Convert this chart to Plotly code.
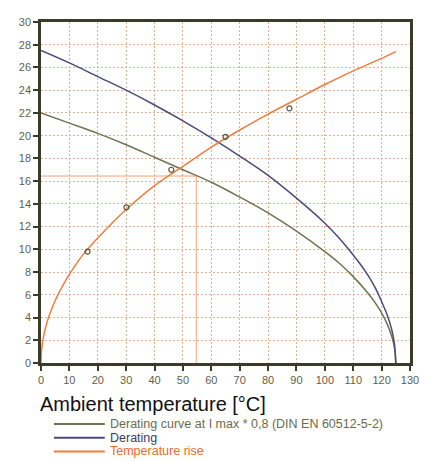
import plotly.graph_objects as go

# values
ambient = [0, 10, 20, 30, 40, 50, 60, 70, 80, 90, 100, 105, 110, 115, 118, 120, 122, 123.5, 124.5, 125]
derating_08 = [22.0, 21.1, 20.2, 19.2, 18.1, 17.0, 15.9, 14.6, 13.2, 11.6, 9.8, 8.8, 7.6, 6.2, 5.2, 4.4, 3.4, 2.4, 1.4, 0]
derating = [27.5, 26.4, 25.2, 24.0, 22.7, 21.3, 19.8, 18.2, 16.5, 14.5, 12.3, 11.0, 9.5, 7.8, 6.5, 5.4, 4.2, 3.0, 1.7, 0]

rise_x = [0, 0.3, 1, 2, 3, 5, 7, 10, 15, 20, 25, 30, 40, 50, 60, 70, 80, 90, 100, 110, 120, 125]
rise_y = [0, 1.4, 2.45, 3.5, 4.25, 5.5, 6.5, 7.8, 9.6, 11.0, 12.3, 13.5, 15.6, 17.3, 19.0, 20.5, 21.9, 23.2, 24.5, 25.7, 26.8, 27.4]

meas_x = [16.4, 30.1, 45.9, 65.0, 87.5]
meas_y = [9.8, 13.7, 17.0, 19.9, 22.4]

# operating point marked with guide lines
op_x = 54.7
op_y = 16.45

x_ticks = list(range(0, 131, 10))
y_ticks = list(range(0, 31, 2))

names = ["Derating curve at I max * 0,8 (DIN EN 60512-5-2)", "Derating", "Temperature rise"]
colors = ["#6f7352", "#4b4a78", "#f27c3e"]
text_colors = ["#6b6b4c", "#3d3c66", "#f0682a"]

axis_col = "#3b3b2a"
grid_col = "#e0b090"

fig = go.Figure()

fig.add_trace(go.Scatter(x=[0, op_x, op_x], y=[op_y, op_y, 0], mode="lines",
                         line=dict(color="#f6a172", width=1), showlegend=False, hoverinfo="skip"))
fig.add_trace(go.Scatter(x=ambient, y=derating_08, mode="lines", name=names[0],
                         line=dict(color=colors[0], width=1.5, shape="spline")))
fig.add_trace(go.Scatter(x=ambient, y=derating, mode="lines", name=names[1],
                         line=dict(color=colors[1], width=1.5, shape="spline")))
fig.add_trace(go.Scatter(x=rise_x, y=rise_y, mode="lines", name=names[2],
                         line=dict(color=colors[2], width=1.5, shape="spline")))
fig.add_trace(go.Scatter(x=meas_x, y=meas_y, mode="markers", showlegend=False,
                         marker=dict(symbol="circle-open", size=5, color="#55553c", line=dict(width=1.2))))

# the page body has an 8px margin, so the figure is a bit smaller than the window
W, H = 419, 453
pw = W - 33 - 16
ph = H - 8 - 98


def py(px_from_top):
    # window pixel row -> paper y
    return (363 - px_from_top) / ph


def px(px_from_left):
    return (px_from_left - 41) / pw


# hand-drawn legend below the axis title
leg_rows = [425, 439, 453]
for name, col, tcol, row in zip(names, colors, text_colors, leg_rows):
    fig.add_shape(type="line", xref="paper", yref="paper", x0=px(54), x1=px(105), y0=py(row), y1=py(row),
                  line=dict(color=col, width=2))
    fig.add_annotation(text=name, xref="paper", yref="paper", x=px(108), y=py(row), xanchor="left",
                       yanchor="middle", showarrow=False, font=dict(size=12.5, color=tcol))

fig.add_annotation(text="Ambient temperature [°C]", xref="paper", yref="paper", x=px(38), y=py(405),
                   xanchor="left", yanchor="middle", showarrow=False,
                   font=dict(size=20, color="#111111"))

axis_common = dict(
    showline=True, linewidth=2.5, linecolor=axis_col, mirror=True,
    ticks="outside", ticklen=5, tickwidth=1.5, tickcolor=axis_col,
    showgrid=True, gridcolor=grid_col, griddash="2px,2px", gridwidth=1,
    zeroline=False, tickfont=dict(size=11, color="#5f5f48"),
)

fig.update_xaxes(range=[0, 130], tickvals=x_ticks, **axis_common)
fig.update_yaxes(range=[0, 30], tickvals=y_ticks, **axis_common)

fig.update_layout(
    width=W, height=H,
    margin=dict(l=33, r=16, t=8, b=98),
    paper_bgcolor="white", plot_bgcolor="white",
    font=dict(family="Arial, Liberation Sans, sans-serif"),
    showlegend=False,
)

fig.write_html("out.html")
